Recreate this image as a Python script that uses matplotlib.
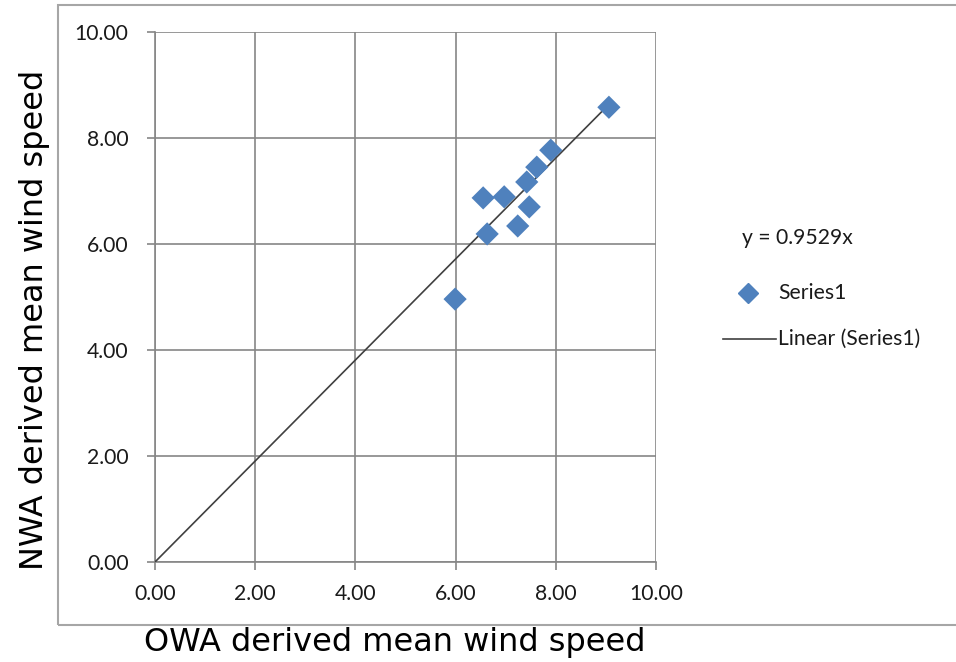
import numpy as np
import matplotlib.pyplot as plt
from matplotlib.patches import Rectangle

# 读取数据
owa = [9.06, 7.90, 7.62, 7.42, 6.55, 6.97, 7.47, 7.24, 6.63, 5.99]
nwa = [8.58, 7.77, 7.45, 7.17, 6.87, 6.89, 6.70, 6.34, 6.19, 4.96]
slope = 0.9529
ticks = [0, 2, 4, 6, 8, 10]

W, H = 956, 662
fig = plt.figure(figsize=(W / 100, H / 100), dpi=100)
fig.patch.set_facecolor('white')
fnt = 'Lato'
fs = 15.2

# 外框
fig.patches.append(Rectangle((58 / W, 1 - 625 / H), 1.2, (625 - 5) / H,
                             transform=fig.transFigure, fill=False,
                             edgecolor='#a6a6a6', linewidth=1.5))

ax = fig.add_axes([155 / W, 1 - 562 / H, (656 - 155) / W, (562 - 32) / H])
ax.set_xlim(0, 10)
ax.set_ylim(0, 10)
ax.set_xticks(ticks)
ax.set_yticks(ticks)
ax.set_xticklabels(['%.2f' % t for t in ticks])
ax.set_yticklabels(['%.2f' % t for t in ticks])
ax.grid(True, color='#868686', linewidth=1.2)
ax.set_axisbelow(True)
for s in ['top', 'right']:
    ax.spines[s].set_visible(False)
for s in ['left', 'bottom']:
    ax.spines[s].set_color('#868686')
    ax.spines[s].set_linewidth(1.2)
ax.tick_params(direction='out', length=6, width=1.2, color='#868686',
               labelsize=fs, labelcolor='#1a1a1a')
ax.tick_params(axis='y', pad=13)
ax.tick_params(axis='x', pad=10)
for lab in ax.get_xticklabels() + ax.get_yticklabels():
    lab.set_family(fnt)

# 趋势线
xl = np.array([0, max(owa)])
ax.plot(xl, slope * xl, color='#404040', linewidth=1.2, zorder=3)
ax.scatter(owa, nwa, marker='D', s=140, color='#4f81bd', zorder=4,
           edgecolors='none')

# 图例
fig.text(742 / W, 1 - 238 / H, 'y = 0.9529x', fontsize=fs,
         family=fnt, va='center', color='#1a1a1a')
fig.lines.append(plt.Line2D([748 / W], [1 - 293 / H], marker='D',
                            markersize=10, color='#4f81bd',
                            transform=fig.transFigure, linestyle='none'))
fig.text(778 / W, 1 - 293 / H, 'Series1', fontsize=fs,
         family=fnt, va='center', color='#1a1a1a')
fig.lines.append(plt.Line2D([723 / W, 776 / W], [1 - 339 / H, 1 - 339 / H],
                            color='#404040', linewidth=1.2,
                            transform=fig.transFigure))
fig.text(778 / W, 1 - 339 / H, 'Linear (Series1)', fontsize=fs,
         family=fnt, va='center', color='#1a1a1a')

# 轴标题
fig.text(395 / W, 1 - 643 / H, 'OWA derived mean wind speed', fontsize=23,
         ha='center', va='center', color='black')
fig.text(35 / W, 1 - 320 / H, 'NWA derived mean wind speed', fontsize=23,
         ha='center', va='center', rotation=90, color='black')

fig.savefig('out.png', dpi=100)
